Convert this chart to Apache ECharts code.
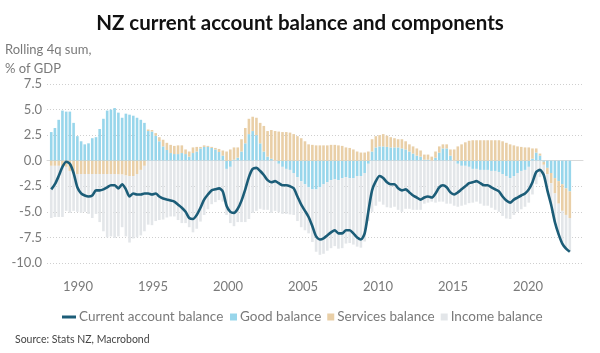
<!DOCTYPE html>
<html>
<head>
<meta charset="utf-8">
<script src="https://cdn.jsdelivr.net/npm/echarts@6/dist/echarts.min.js"></script>
<style>
  html, body { margin: 0; padding: 0; background: #fff; }
  #main { width: 600px; height: 353px; }
</style>
</head>
<body>
<div id="main"></div>
<script>
// quarterly data, 1988Q1 .. 2022Q4, % of GDP (rolling 4q sum)
const startYear = 1988;

const currentAccount = [
  -2.8, -2.3, -1.5, -0.6, -0.1, -0.3, -1.2, -2.6, -3.2, -3.4,
  -3.5, -3.4, -2.9, -2.9, -2.8, -2.6, -2.4, -2.4, -2.7, -2.3,
  -2.8, -3.5, -3.2, -3.3, -3.3, -3.2, -3.2, -3.3, -3.2, -3.5,
  -3.7, -3.8, -3.9, -4.0, -4.3, -4.6, -5.0, -5.6, -5.7, -5.3,
  -4.6, -3.8, -3.3, -2.9, -2.8, -2.7, -3.0, -4.4, -5.0, -5.1,
  -4.7, -3.9, -2.8, -1.6, -0.8, -0.7, -1.0, -1.4, -1.9, -2.1,
  -2.0, -2.2, -2.4, -2.4, -2.5, -2.7, -3.5, -4.3, -4.9, -5.5,
  -6.4, -7.4, -7.7, -7.6, -7.3, -7.0, -6.8, -7.1, -7.1, -6.8,
  -6.8, -7.1, -7.5, -7.7, -7.1, -5.0, -2.9, -2.0, -1.5, -1.7,
  -2.1, -2.3, -2.3, -2.7, -2.9, -2.8, -3.1, -3.4, -3.6, -3.8,
  -3.6, -3.5, -3.6, -3.2, -2.6, -2.4, -2.6, -3.1, -3.3, -3.1,
  -2.8, -2.5, -2.2, -2.1, -2.0, -2.2, -2.4, -2.4, -2.6, -2.8,
  -3.0, -3.5, -3.9, -4.1, -3.8, -3.6, -3.4, -3.2, -2.8, -2.1,
  -1.1, -0.9, -1.4, -2.9, -4.3, -6.0, -7.2, -8.1, -8.6, -8.9
];

const goodsBalance = [
  2.8, 3.2, 4.0, 4.9, 4.8, 4.8, 3.7, 2.4, 1.9, 1.6,
  1.7, 2.2, 2.3, 3.1, 4.1, 4.9, 5.0, 5.15, 4.7, 4.2,
  4.6, 4.5, 4.4, 4.2, 4.0, 3.7, 2.9, 2.85, 2.45, 1.9,
  1.4, 1.05, 0.75, 0.65, 0.65, 0.75, 0.65, 0.4, 0.75, 0.9,
  1.2, 1.35, 1.35, 1.25, 1.1, 0.85, 0.5, -0.8, -0.6, 0.1,
  0.3, 0.9, 1.7, 2.6, 2.9, 2.5, 1.7, 0.9, 0.4, 0.2,
  0.0, -0.3, -0.6, -0.8, -0.9, -1.2, -1.6, -2.0, -2.3, -2.6,
  -2.8, -2.8, -2.6, -2.3, -2.1, -1.9, -1.8, -1.9, -1.7, -1.6,
  -1.7, -1.7, -1.5, -1.5, -1.2, -0.3, 0.9, 1.3, 1.4, 1.4,
  1.35, 1.3, 1.3, 1.3, 1.2, 1.1, 0.9, 0.7, 0.5, 0.4,
  0.1, 0.1, 0.0, 0.3, 0.8, 1.2, 1.2, 0.5, 0.0, -0.3,
  -0.5, -0.5, -0.6, -0.8, -0.8, -0.9, -0.9, -0.9, -1.0, -1.0,
  -1.1, -1.3, -1.5, -1.7, -1.5, -1.2, -1.0, -0.9, -0.6, 0.2,
  0.8, 0.5, -0.1, -0.7, -1.2, -1.7, -2.0, -2.3, -2.7, -3.0
];

const servicesBalance = [
  -0.5, -0.5, -0.5, -0.5, -0.6, -1.0, -1.2, -1.3, -1.3, -1.3,
  -1.3, -1.3, -1.3, -1.3, -1.3, -1.3, -1.3, -1.3, -1.35, -1.35,
  -1.45, -1.5, -1.5, -1.3, -0.9, -0.5, 0.15, 0.15, 0.25, 0.4,
  0.65, 0.7, 0.8, 0.8, 0.85, 0.75, 0.45, 0.5, 0.55, 0.45,
  0.15, 0.15, 0.1, 0.1, 0.15, 0.3, 0.5, 0.9, 1.1, 1.2,
  1.0, 1.2, 1.5, 1.5, 1.4, 1.7, 2.0, 2.5, 2.5, 2.8,
  2.9, 2.85, 2.8, 2.8, 2.75, 2.6, 2.4, 2.2, 1.9, 1.6,
  1.55, 1.5, 1.5, 1.5, 1.5, 1.55, 1.55, 1.5, 1.45, 1.3,
  1.25, 1.1, 0.9, 0.8, 0.8, 0.9, 1.2, 1.1, 1.1, 1.2,
  1.1, 1.0, 0.9, 0.8, 0.9, 0.8, 0.7, 0.7, 0.7, 0.6,
  0.5, 0.5, 0.4, 0.6, 0.6, 0.4, 0.4, 0.6, 1.1, 1.4,
  1.6, 1.8, 1.95, 2.0, 2.0, 2.0, 2.0, 2.0, 2.0, 2.0,
  2.0, 1.9, 1.75, 1.6, 1.5, 1.4, 1.35, 1.3, 1.3, 1.0,
  0.4, 0.2, -0.3, -0.6, -1.0, -1.5, -2.2, -2.6, -2.6, -2.6
];

const incomeBalance = [
  -5.1, -5.0, -5.0, -5.0, -4.3, -4.1, -3.7, -3.7, -3.8, -3.7,
  -3.9, -4.3, -3.9, -4.7, -5.6, -6.2, -6.1, -6.25, -6.05, -5.15,
  -5.95, -6.5, -6.1, -6.2, -6.4, -6.4, -6.25, -6.3, -5.9, -5.8,
  -5.75, -5.55, -5.45, -5.45, -5.8, -6.1, -6.1, -6.5, -7.0, -6.65,
  -5.95, -5.3, -4.75, -4.25, -4.05, -3.85, -4.0, -4.5, -5.5, -6.4,
  -6.0, -6.0, -6.0, -5.7, -5.1, -4.9, -4.7, -4.8, -4.8, -5.1,
  -4.9, -4.75, -4.6, -4.4, -4.35, -4.1, -4.3, -4.5, -4.5, -4.5,
  -5.15, -6.1, -6.6, -6.8, -6.7, -6.65, -6.55, -6.7, -6.85, -6.5,
  -6.35, -6.5, -6.9, -7.0, -6.7, -5.6, -5.0, -4.4, -4.0, -4.3,
  -4.55, -4.6, -4.5, -4.8, -5.0, -4.7, -4.7, -4.8, -4.8, -4.8,
  -4.2, -4.1, -4.0, -4.1, -4.0, -4.0, -4.2, -4.2, -4.4, -4.2,
  -3.9, -3.8, -3.55, -3.3, -3.2, -3.3, -3.5, -3.5, -3.6, -3.8,
  -3.9, -4.1, -4.15, -4.0, -3.8, -3.8, -3.75, -3.6, -3.5, -3.3,
  -2.3, -1.6, -1.0, -1.6, -2.1, -2.8, -3.0, -3.2, -3.3, -3.3
];

const yearTicks = [1990, 1995, 2000, 2005, 2010, 2015, 2020];

// mid-quarter dates (Feb, May, Aug, Nov 15th)
const quarterDates = currentAccount.map((_, i) =>
  Date.UTC(startYear + Math.floor(i / 4), (i % 4) * 3 + 1, 15));
const pairs = arr => arr.map((v, i) => [quarterDates[i], v]);

const textGrey = '#7a7a7a';
const font = 'Lato';

let chartDom = document.getElementById('main');
let myChart = echarts.init(chartDom);

let option = {
  animation: false,
  textStyle: { fontFamily: font },
  title: [
    {
      text: 'NZ current account balance and components',
      left: 'center',
      top: 8,
      textStyle: { fontFamily: font, fontSize: 20.5, fontWeight: 'bold', color: '#111' }
    },
    {
      text: 'Rolling 4q sum,\n% of GDP',
      left: 0,
      top: 35,
      textStyle: { fontFamily: font, fontSize: 13, fontWeight: 'normal', color: textGrey, lineHeight: 19 }
    },
    {
      text: 'Source: Stats NZ, Macrobond',
      left: 10,
      top: 329,
      textStyle: { fontFamily: font, fontSize: 10.5, fontWeight: 'normal', color: '#444' }
    }
  ],
  legend: [
    {
      data: [{ name: 'Current account balance', icon: 'rect' }],
      left: 57,
      top: 305,
      itemWidth: 14,
      itemHeight: 3,
      textStyle: { fontFamily: font, fontSize: 13.5, color: textGrey, padding: [0, 0, 0, -2] }
    },
    {
      data: [
        { name: 'Good balance', icon: 'rect' },
        { name: 'Services balance', icon: 'rect' },
        { name: 'Income balance', icon: 'rect' }
      ],
      left: 225,
      top: 305,
      itemGap: 6,
      itemWidth: 7,
      itemHeight: 7,
      textStyle: { fontFamily: font, fontSize: 13.5, color: textGrey, padding: [0, 0, 0, -2] }
    }
  ],
  grid: { left: 47, right: 17, top: 84, bottom: 90 },
  xAxis: [
    {
      // time axis carrying the data
      type: 'time',
      min: Date.UTC(1987, 11, 5),
      max: Date.UTC(2023, 8, 2),
      offset: 9,
      axisLine: { lineStyle: { color: '#d9d9d9', width: 1 } },
      axisTick: { show: false },
      axisLabel: { show: false },
      splitLine: { show: false }
    },
    {
      // year labels on a matching numeric scale
      type: 'value',
      position: 'bottom',
      min: 1987.93,
      max: 2023.67,
      offset: 9,
      axisLine: { show: false },
      axisTick: { show: false },
      splitLine: { show: false },
      axisLabel: {
        customValues: yearTicks,
        formatter: v => String(v),
        color: textGrey,
        fontSize: 13,
        margin: 8
      }
    }
  ],
  yAxis: {
    type: 'value',
    min: -10,
    max: 7.5,
    interval: 2.5,
    axisLine: { show: false },
    axisTick: { show: false },
    splitLine: { lineStyle: { color: '#cfcfcf', type: [1, 2] } },
    axisLabel: {
      formatter: v => v.toFixed(1),
      color: textGrey,
      fontSize: 13,
      margin: 5
    }
  },
  series: [
    {
      name: 'Good balance',
      type: 'bar',
      stack: 'ca',
      barWidth: 2.6,
      itemStyle: { color: '#98d6eb' },
      data: pairs(goodsBalance)
    },
    {
      name: 'Services balance',
      type: 'bar',
      stack: 'ca',
      barWidth: 2.6,
      itemStyle: { color: '#e9cfa7' },
      data: pairs(servicesBalance)
    },
    {
      name: 'Income balance',
      type: 'bar',
      stack: 'ca',
      barWidth: 2.6,
      itemStyle: { color: '#e3e6e9' },
      data: pairs(incomeBalance)
    },
    {
      name: 'Current account balance',
      type: 'line',
      symbol: 'none',
      smooth: 0.25,
      z: 5,
      lineStyle: { color: '#1c5d78', width: 2.6 },
      itemStyle: { color: '#1c5d78' },
      data: pairs(currentAccount)
    }
  ]
};

option && myChart.setOption(option);
</script>
</body>
</html>
